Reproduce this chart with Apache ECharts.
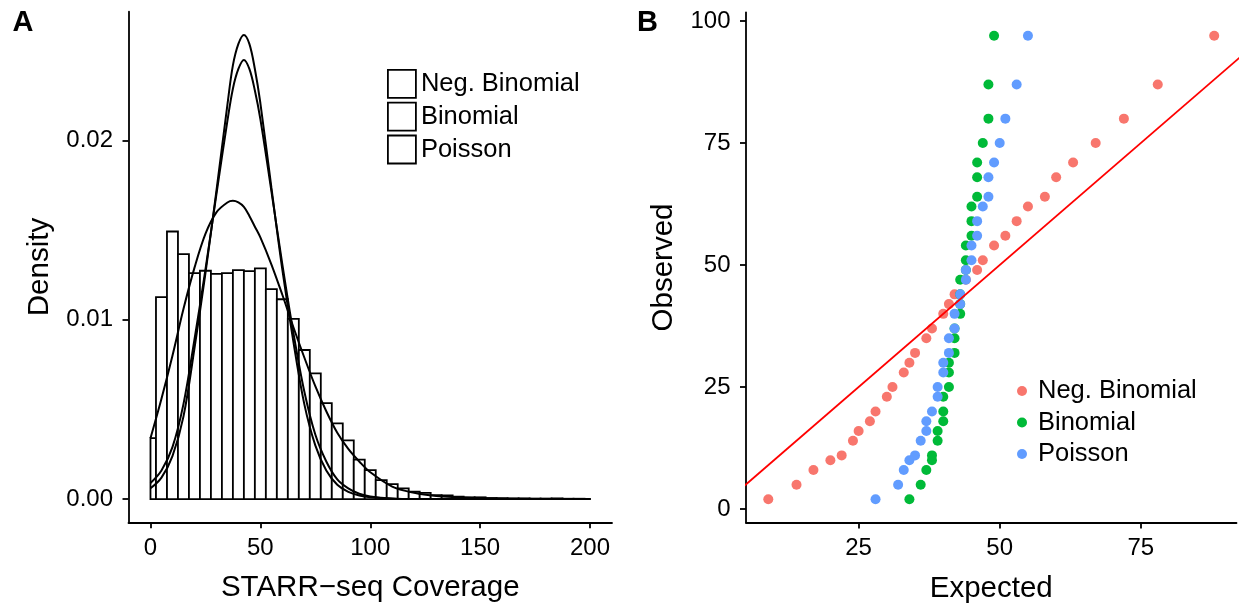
<!DOCTYPE html>
<html><head><meta charset="utf-8">
<script src="https://cdn.jsdelivr.net/npm/echarts@6/dist/echarts.min.js"></script>
<style>html,body{margin:0;padding:0;background:#fff}#c{width:1239px;height:609px}</style>
</head><body><div id="c"></div>
<script>
// ---------- Panel A: histogram of STARR-seq coverage ----------
const binEdges = [0, 2.5, 7.5, 12.5, 17.5, 22.5, 27.5, 32.5, 37.5, 42.5, 47.5, 52.5, 57.5, 62.5, 67.5, 72.5, 77.5, 82.5, 87.5, 92.5, 97.5, 102.5, 107.5, 112.5, 117.5, 122.5, 127.5, 132.5, 137.5, 142.5, 147.5, 152.5, 157.5, 162.5, 167.5, 172.5, 177.5, 182.5, 187.5, 192.5, 197.5, 200];
const binDensity = [0.0034, 0.01127, 0.01493, 0.01367, 0.01261, 0.01274, 0.01257, 0.01261, 0.01278, 0.01272, 0.01287, 0.01171, 0.01115, 0.01006, 0.00832, 0.00702, 0.00536, 0.00423, 0.00328, 0.0022, 0.00162, 0.00106, 0.00084, 0.0006, 0.00041, 0.00035, 0.00022, 0.0002, 0.00013, 0.0001, 0.0001, 0.00006, 0.00005, 0.00004, 0.00004, 0.00003, 0.00003, 0.00004, 0.00002, 0.00002, 0.00001];
const curveX = [0, 5, 10, 15, 20, 25, 30, 35, 37.5, 40, 42.5, 45, 47.5, 50, 55, 60, 65, 70, 75, 80, 85, 90, 95, 100, 110, 120, 130, 140, 150, 175, 200];
const negBinomialDensity = [0.0034, 0.0056, 0.0080, 0.0106, 0.0129, 0.0148, 0.0160, 0.01655, 0.01664, 0.01655, 0.0163, 0.0158, 0.0152, 0.0146, 0.0131, 0.0114, 0.0096, 0.0079, 0.0063, 0.0049, 0.0037, 0.0028, 0.0021, 0.0015, 0.0007, 0.00035, 0.00017, 0.0001, 0.00005, 0.00001, 0];
const binomialDensity = [0.0006, 0.0012, 0.0024, 0.0046, 0.0084, 0.0126, 0.0172, 0.0220, 0.0242, 0.0254, 0.0259, 0.0254, 0.0240, 0.0221, 0.0174, 0.0128, 0.0088, 0.0053, 0.0030, 0.0016, 0.0008, 0.0004, 0.0002, 0.0001, 0.00002, 0, 0, 0, 0, 0, 0];
const poissonDensity = [0.0009, 0.0016, 0.0029, 0.0053, 0.0089, 0.0128, 0.0170, 0.0211, 0.0229, 0.0240, 0.0245, 0.0240, 0.0228, 0.0212, 0.0172, 0.0131, 0.0093, 0.0060, 0.0036, 0.0021, 0.0011, 0.0006, 0.0003, 0.00015, 0.00003, 0, 0, 0, 0, 0, 0];
const xTicksA = [0, 50, 100, 150, 200];
const yTicksA = [0, 0.01, 0.02];

// ---------- Panel B: Q-Q plot ----------
const distNames = ['Neg. Binomial', 'Binomial', 'Poisson'];
const observed = [2, 5, 8, 10, 11, 14, 16, 18, 20, 23, 25, 28, 30, 32, 35, 37, 40, 42, 44, 47, 49, 51, 54, 56, 59, 62, 64, 68, 71, 75, 80, 87, 97];
const expNegBinomial = [9, 14, 17, 20, 22, 24, 25, 27, 28, 30, 31, 33, 34, 35, 37, 38, 40, 41, 42, 44, 46, 47, 49, 51, 53, 55, 58, 60, 63, 67, 72, 78, 88];
const expBinomial = [34, 36, 37, 38, 38, 39, 39, 40, 40, 40, 41, 41, 41, 42, 42, 42, 43, 43, 43, 43, 44, 44, 44, 45, 45, 45, 46, 46, 46, 47, 48, 48, 49];
const expPoisson = [28, 32, 33, 34, 35, 36, 37, 37, 38, 39, 39, 40, 40, 41, 41, 42, 42, 43, 43, 44, 44, 45, 45, 46, 46, 47, 48, 48, 49, 50, 51, 53, 55];
const identityLine = [[0, 0], [100, 100]];
const xTicksB = [25, 50, 75];
const yTicksB = [0, 25, 50, 75, 100];
const qqColors = ['#F8766D', '#00BA38', '#619CFF'];

const FONT = '"Liberation Sans", Arial, Helvetica, sans-serif';
const pad = (lo, hi) => { const d = (hi - lo) * 0.05; return [lo - d, hi + d]; };
const allExp = expNegBinomial.concat(expBinomial, expPoisson);
const xRangeB = pad(Math.min(...allExp), Math.max(...allExp));
const yRangeB = pad(Math.min(...observed), Math.max(...observed));
const xRangeA = pad(0, 200);
const yRangeA = pad(0, Math.max(...binomialDensity, ...poissonDensity, ...negBinomialDensity, ...binDensity));

function axis(opts) {
  return Object.assign({
    type: 'value',
    axisLine: { show: true, onZero: false, lineStyle: { color: '#000', width: 1.8 } },
    axisTick: { show: true, length: 6, lineStyle: { color: '#000', width: 1.8 }, customValues: opts.ticks },
    axisLabel: { customValues: opts.ticks, color: '#000', fontSize: 24, fontFamily: FONT, margin: opts.margin, formatter: opts.fmt },
    splitLine: { show: false },
    nameLocation: 'middle',
    nameTextStyle: { color: '#000', fontSize: 29.5, fontFamily: FONT }
  }, opts.extra);
}

const names = { nbC: distNames[0], biC: distNames[1], poC: distNames[2], nbP: distNames[0], biP: distNames[1], poP: distNames[2] };
const curveSeries = (id, ys) => ({
  id, name: id, type: 'line', xAxisIndex: 0, yAxisIndex: 0,
  data: curveX.map((x, i) => [x, ys[i]]),
  showSymbol: false, symbol: 'none', smooth: 0.35, z: 3,
  lineStyle: { color: '#000', width: 2 },
  itemStyle: { color: '#fff', borderColor: '#000' }
});
const qqSeries = (id, xs, c) => ({
  id, name: id, type: 'scatter', xAxisIndex: 1, yAxisIndex: 1,
  data: xs.map((x, i) => [x, observed[i]]),
  symbolSize: 10, itemStyle: { color: c, opacity: 1 }, z: 3
});

const option = {
  animation: false,
  backgroundColor: '#fff',
  textStyle: { fontFamily: FONT },
  title: [
    { text: 'A', left: 12.5, top: 8, padding: 0, textStyle: { fontSize: 29, fontWeight: 'bold', color: '#000', fontFamily: FONT } },
    { text: 'B', left: 637, top: 8, padding: 0, textStyle: { fontSize: 29, fontWeight: 'bold', color: '#000', fontFamily: FONT } }
  ],
  grid: [
    { left: 128.5, top: 11.7, width: 483.5, height: 510.6 },
    { left: 746, top: 12.5, width: 490.5, height: 510 }
  ],
  xAxis: [
    axis({ ticks: xTicksA, margin: 14, extra: { gridIndex: 0, min: xRangeA[0], max: xRangeA[1], name: 'STARR\u2212seq Coverage', nameGap: 51 } }),
    axis({ ticks: xTicksB, margin: 14, extra: { gridIndex: 1, min: xRangeB[0], max: xRangeB[1], name: 'Expected', nameGap: 51 } })
  ],
  yAxis: [
    axis({ ticks: yTicksA, margin: 15.5, fmt: v => Number(v).toFixed(2), extra: { gridIndex: 0, min: yRangeA[0], max: yRangeA[1], name: 'Density', nameGap: 74 } }),
    axis({ ticks: yTicksB, margin: 15.5, extra: { gridIndex: 1, min: yRangeB[0], max: yRangeB[1], name: 'Observed', nameGap: 67 } })
  ],
  legend: [
    {
      data: ['nbC', 'biC', 'poC'], formatter: n => names[n],
      orient: 'vertical', left: 387, top: 69, padding: 0,
      itemWidth: 28, itemHeight: 28, itemGap: 3, icon: 'rect', selectedMode: false,
      itemStyle: { color: '#fff', borderColor: '#000', borderWidth: 1.8 },
      textStyle: { fontSize: 25.5, color: '#000', fontFamily: FONT }
    },
    {
      data: ['nbP', 'biP', 'poP'], formatter: n => names[n],
      orient: 'vertical', left: 1017, top: 378, padding: 0,
      itemWidth: 22, itemHeight: 10, itemGap: 5.5, icon: 'circle', selectedMode: false,
      textStyle: { fontSize: 25.5, color: '#000', fontFamily: FONT }
    }
  ],
  series: [
    {
      type: 'custom', xAxisIndex: 0, yAxisIndex: 0, z: 1,
      data: binDensity.map((d, i) => [binEdges[i], binEdges[i + 1], d]),
      encode: { x: [0, 1], y: 2 },
      renderItem: (params, api) => {
        const p0 = api.coord([api.value(0), api.value(2)]);
        const p1 = api.coord([api.value(1), 0]);
        return { type: 'rect', shape: { x: p0[0], y: p0[1], width: p1[0] - p0[0], height: p1[1] - p0[1] },
                 style: { fill: '#fff', stroke: '#000', lineWidth: 1.8 } };
      }
    },
    curveSeries('nbC', negBinomialDensity),
    curveSeries('biC', binomialDensity),
    curveSeries('poC', poissonDensity),
    qqSeries('nbP', expNegBinomial, qqColors[0]),
    qqSeries('biP', expBinomial, qqColors[1]),
    qqSeries('poP', expPoisson, qqColors[2]),
    {
      type: 'line', xAxisIndex: 1, yAxisIndex: 1, data: identityLine, z: 5,
      showSymbol: false, symbol: 'none', lineStyle: { color: '#FF0000', width: 1.8 }, clip: true
    }
  ]
};
const chart = echarts.init(document.getElementById('c'), null, { renderer: 'canvas' });
chart.setOption(option);
</script></body></html>
